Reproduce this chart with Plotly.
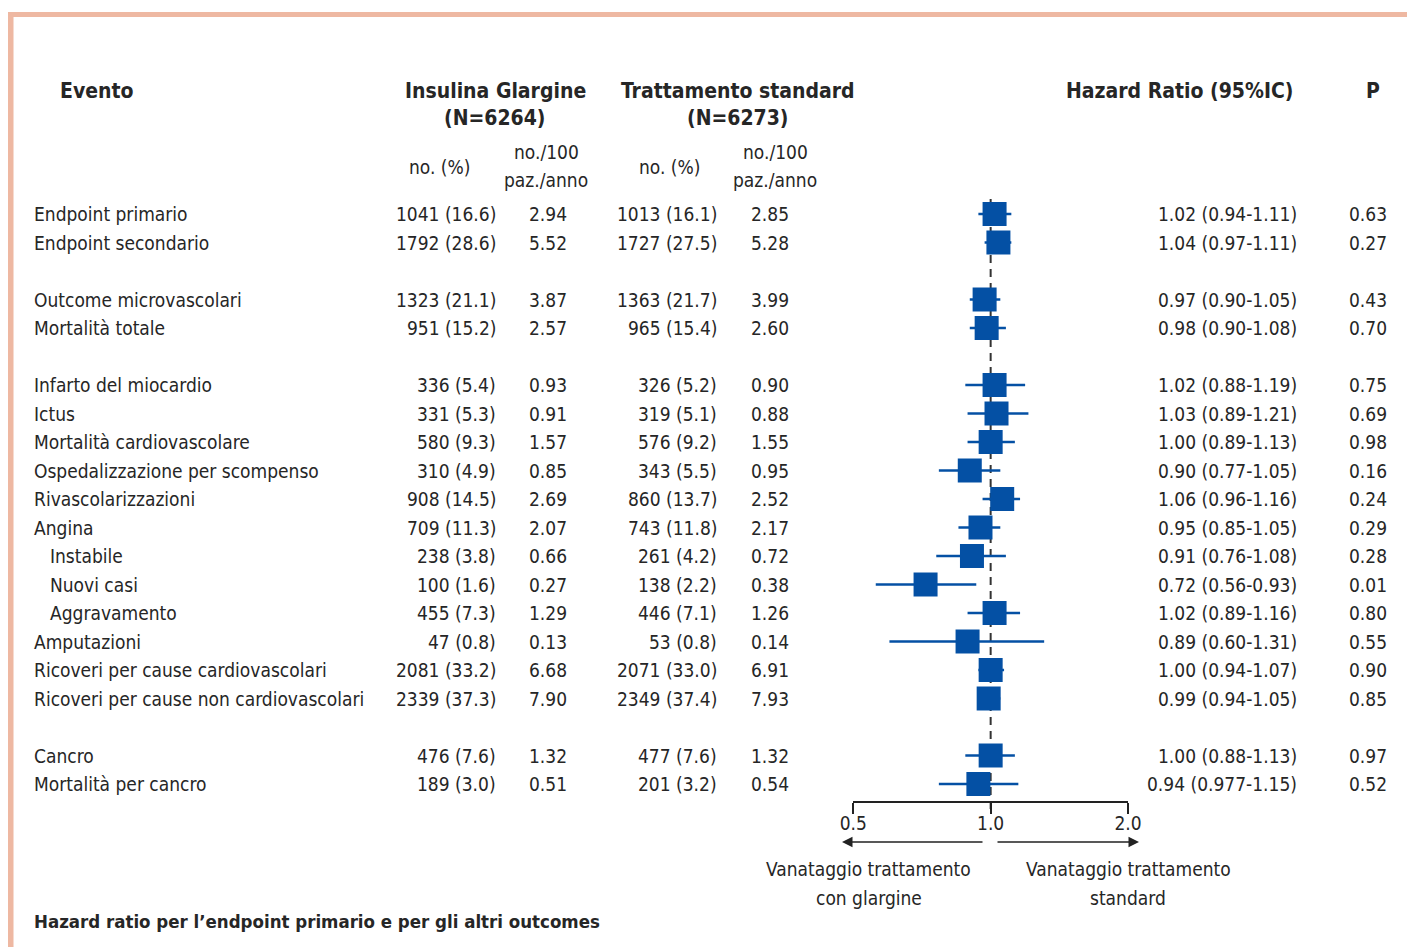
import plotly.graph_objects as go

# ---------------- data ----------------
labels = ["Endpoint primario", "Endpoint secondario", "Outcome microvascolari", "Mortalità totale",
          "Infarto del miocardio", "Ictus", "Mortalità cardiovascolare", "Ospedalizzazione per scompenso",
          "Rivascolarizzazioni", "Angina", "Instabile", "Nuovi casi", "Aggravamento", "Amputazioni",
          "Ricoveri per cause cardiovascolari", "Ricoveri per cause non cardiovascolari",
          "Cancro", "Mortalità per cancro"]
row_pos = [0, 1, 3, 4, 6, 7, 8, 9, 10, 11, 12, 13, 14, 15, 16, 17, 19, 20]
indent = [0, 0, 0, 0, 0, 0, 0, 0, 0, 0, 1, 1, 1, 0, 0, 0, 0, 0]

glar_n = [1041, 1792, 1323, 951, 336, 331, 580, 310, 908, 709, 238, 100, 455, 47, 2081, 2339, 476, 189]
glar_pct = [16.6, 28.6, 21.1, 15.2, 5.4, 5.3, 9.3, 4.9, 14.5, 11.3, 3.8, 1.6, 7.3, 0.8, 33.2, 37.3, 7.6, 3.0]
glar_rate = [2.94, 5.52, 3.87, 2.57, 0.93, 0.91, 1.57, 0.85, 2.69, 2.07, 0.66, 0.27, 1.29, 0.13, 6.68, 7.90, 1.32, 0.51]
std_n = [1013, 1727, 1363, 965, 326, 319, 576, 343, 860, 743, 261, 138, 446, 53, 2071, 2349, 477, 201]
std_pct = [16.1, 27.5, 21.7, 15.4, 5.2, 5.1, 9.2, 5.5, 13.7, 11.8, 4.2, 2.2, 7.1, 0.8, 33.0, 37.4, 7.6, 3.2]
std_rate = [2.85, 5.28, 3.99, 2.60, 0.90, 0.88, 1.55, 0.95, 2.52, 2.17, 0.72, 0.38, 1.26, 0.14, 6.91, 7.93, 1.32, 0.54]

hr = [1.02, 1.04, 0.97, 0.98, 1.02, 1.03, 1.00, 0.90, 1.06, 0.95, 0.91, 0.72, 1.02, 0.89, 1.00, 0.99, 1.00, 0.94]
hr_lo = [0.94, 0.97, 0.90, 0.90, 0.88, 0.89, 0.89, 0.77, 0.96, 0.85, 0.76, 0.56, 0.89, 0.60, 0.94, 0.94, 0.88, 0.77]
hr_hi = [1.11, 1.11, 1.05, 1.08, 1.19, 1.21, 1.13, 1.05, 1.16, 1.05, 1.08, 0.93, 1.16, 1.31, 1.07, 1.05, 1.13, 1.15]
hr_text = ["1.02 (0.94-1.11)", "1.04 (0.97-1.11)", "0.97 (0.90-1.05)", "0.98 (0.90-1.08)",
           "1.02 (0.88-1.19)", "1.03 (0.89-1.21)", "1.00 (0.89-1.13)", "0.90 (0.77-1.05)",
           "1.06 (0.96-1.16)", "0.95 (0.85-1.05)", "0.91 (0.76-1.08)", "0.72 (0.56-0.93)",
           "1.02 (0.89-1.16)", "0.89 (0.60-1.31)", "1.00 (0.94-1.07)", "0.99 (0.94-1.05)",
           "1.00 (0.88-1.13)", "0.94 (0.977-1.15)"]
p_val = [0.63, 0.27, 0.43, 0.70, 0.75, 0.69, 0.98, 0.16, 0.24, 0.29, 0.28, 0.01, 0.80, 0.55, 0.90, 0.85, 0.97, 0.52]

tick_vals = [0.5, 1.0, 2.0]
tick_text = ["0.5", "1.0", "2.0"]

# ---------------- style ----------------
W, H = 1407, 947
FONT = "DejaVu Sans Condensed, Liberation Sans Narrow, sans-serif"
TXT = "#262626"
BLUE = "#0450a4"
BORDER = "#eeb8a2"
FS = 19
PAD = 2  # annotation inner padding compensation


def px(x):
    return x / W


def py(y):
    return 1 - y / H


fig = go.Figure()

fig.add_trace(go.Scatter(
    x=hr, y=row_pos, mode="markers",
    marker=dict(symbol="square", size=24, color=BLUE, line=dict(width=0)),
    error_x=dict(type="data", symmetric=False,
                 array=[h - m for m, h in zip(hr, hr_hi)],
                 arrayminus=[m - l for m, l in zip(hr, hr_lo)],
                 width=0, thickness=2.5, color=BLUE),
    cliponaxis=False, hoverinfo="skip", showlegend=False))

ann = []


def txt(x, y, s, anchor="left", size=FS, yref="y", bold=False):
    if anchor == "left":
        x -= PAD
    elif anchor == "right":
        x += PAD
    ann.append(dict(x=px(x), y=y, xref="paper", yref=yref, text=("<b>%s</b>" % s) if bold else s,
                    showarrow=False, xanchor=anchor, yanchor="middle",
                    font=dict(family=FONT, size=size, color=TXT)))


for i, r in enumerate(row_pos):
    txt(50 if indent[i] else 34, r, labels[i])
    txt(496, r, "%d (%.1f)" % (glar_n[i], glar_pct[i]), "right")
    txt(567, r, "%.2f" % glar_rate[i], "right")
    txt(717, r, "%d (%.1f)" % (std_n[i], std_pct[i]), "right")
    txt(789, r, "%.2f" % std_rate[i], "right")
    txt(1297, r, hr_text[i], "right")
    txt(1387, r, "%.2f" % p_val[i], "right")

# headers
HS = 21
txt(60, py(91), "Evento", "left", HS, "paper", True)
txt(495, py(91), "Insulina Glargine", "center", HS, "paper", True)
txt(495, py(118), "(N=6264)", "center", HS, "paper", True)
txt(738, py(91), "Trattamento standard", "center", HS, "paper", True)
txt(738, py(118), "(N=6273)", "center", HS, "paper", True)
txt(1179, py(91), "Hazard Ratio (95%IC)", "center", HS, "paper", True)
txt(1373, py(91), "P", "center", HS, "paper", True)
for cx in (439, 669):
    txt(cx, py(167), "no. (%)", "center", FS, "paper")
for cx in (546, 775):
    txt(cx, py(152), "no./100", "center", FS, "paper")
    txt(cx, py(180), "paz./anno", "center", FS, "paper")

# bottom labels
txt(869, py(869), "Vanataggio trattamento", "center", FS, "paper")
txt(869, py(898), "con glargine", "center", FS, "paper")
txt(1128, py(869), "Vanataggio trattamento", "center", FS, "paper")
txt(1128, py(898), "standard", "center", FS, "paper")
txt(34, py(921), "Hazard ratio per l’endpoint primario e per gli altri outcomes", "left", 18.5, "paper", True)

# arrows
for head, tail in ((842, 984), (1139, 996)):
    ann.append(dict(x=px(head), y=py(842), xref="paper", yref="paper", text="",
                    showarrow=True, ax=tail - head, ay=0, arrowhead=2, arrowsize=1.4,
                    arrowwidth=1.5, arrowcolor="#222", standoff=0))

shapes = [
    dict(type="rect", xref="paper", yref="paper", x0=px(8), x1=1, y0=py(17), y1=py(12),
         fillcolor=BORDER, line=dict(width=0)),
    dict(type="rect", xref="paper", yref="paper", x0=px(8), x1=px(13.5), y0=0, y1=py(12),
         fillcolor=BORDER, line=dict(width=0)),
    dict(type="line", xref="x", yref="y", x0=1, x1=1, y0=-0.53, y1=20.98,
         line=dict(color="#333", width=2, dash="8px,6px"), layer="below"),
]

row0_px, row_step = 214, 28.5
fig.update_layout(
    width=W, height=H, autosize=False, margin=dict(l=0, r=0, t=0, b=0, pad=0, autoexpand=False),
    paper_bgcolor="white", plot_bgcolor="rgba(0,0,0,0)",
    showlegend=False, annotations=ann, shapes=shapes,
    xaxis=dict(type="log", domain=[px(853.3), px(1128)], range=[-0.30103, 0.30103],
               anchor="free", position=py(802), showline=True, linecolor="#222", linewidth=1.5,
               ticks="outside", ticklen=11, tickwidth=1.5, tickcolor="#222", automargin=False,
               ticklabelstandoff=-7,
               tickvals=tick_vals, ticktext=tick_text, showgrid=False, zeroline=False,
               tickfont=dict(family=FONT, size=FS, color=TXT)),
    yaxis=dict(domain=[0, 1], range=[(H - row0_px) / row_step, -row0_px / row_step],
               visible=False, showgrid=False, zeroline=False, automargin=False),
)

fig.write_html("out.html", config={"responsive": False, "displayModeBar": False},
               post_script="document.body.style.margin='0';document.body.style.overflow='hidden';")
